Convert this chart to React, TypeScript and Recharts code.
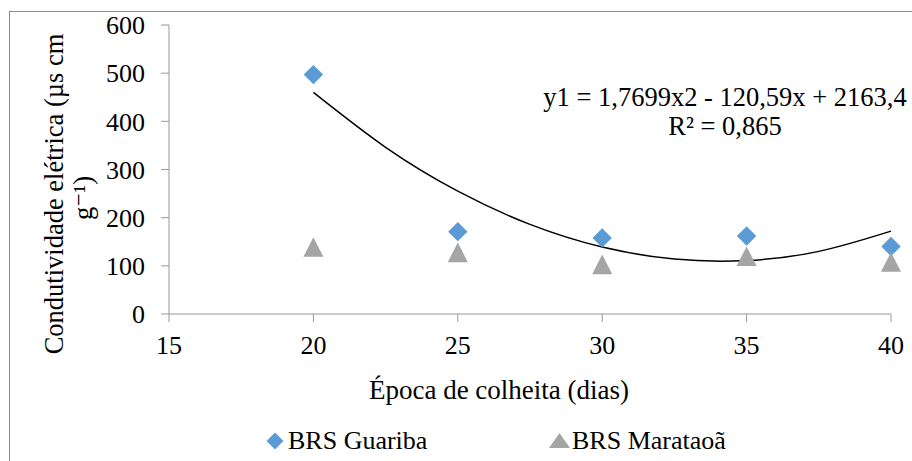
import React from "react";
import {
  ComposedChart,
  Line,
  Scatter,
  XAxis,
  YAxis,
} from "recharts";

// epoca de colheita (dias)
const dias = [20, 25, 30, 35, 40];
const guaribaVals = [497, 171, 158, 162, 140];
const marataoaVals = [139, 128, 103, 120, 108];

// polynomial trendline of BRS Guariba
const trendDias = [20, 22.5, 25, 27.5, 30, 32.5, 35, 37.5, 40];
const trendVals = [460, 346, 255, 186, 139, 114, 111, 130, 172];

const xTicks = [15, 20, 25, 30, 35, 40];
const yTicks = [0, 100, 200, 300, 400, 500, 600];

const guariba = dias.map((x, i) => ({ x, y: guaribaVals[i] }));
const marataoa = dias.map((x, i) => ({ x, y: marataoaVals[i] }));
const trend = trendDias.map((x, i) => ({ x, y: trendVals[i] }));

const FONT = "Liberation Serif, DejaVu Serif, serif";
const AXIS = "#999999";
const BLUE = "#5B9BD5";
const GREY = "#A5A5A5";

const Diamond = (props: any) => {
  const { cx, cy } = props;
  const r = 9.7;
  return (
    <path
      d={`M${cx},${cy - r}L${cx + r},${cy}L${cx},${cy + r}L${cx - r},${cy}Z`}
      fill={BLUE}
    />
  );
};

const Triangle = (props: any) => {
  const { cx, cy } = props;
  const w = 10;
  const h = 9.8;
  return (
    <path
      d={`M${cx},${cy - h}L${cx + w},${cy + h}L${cx - w},${cy + h}Z`}
      fill={GREY}
    />
  );
};

const YTitle = () => (
  <g style={{ fontFamily: FONT, fontSize: 26.5 }} fill="#000">
    <text transform="translate(63,194) rotate(-90)" textAnchor="middle">
      Condutividade elétrica (µs cm
    </text>
    <text transform="translate(92,198) rotate(-90)" textAnchor="middle">
      g⁻¹)
    </text>
  </g>
);

const XTitle = () => (
  <text x={499} y={399} textAnchor="middle" style={{ fontFamily: FONT, fontSize: 27 }} fill="#000">
    Época de colheita (dias)
  </text>
);

const tickStyle = { fill: "#000", fontSize: 26, style: { fontFamily: FONT } };

export default function App() {
  return (
    <div
      style={{
        position: "absolute",
        left: 0,
        top: 0,
        width: 912,
        height: 461,
        background: "#fff",
        fontFamily: FONT,
      }}
    >
      <ComposedChart
        width={912}
        height={461}
        margin={{ top: 25, right: 21, bottom: 0, left: 0 }}
        style={{ fontFamily: FONT }}
      >
        <XAxis
          type="number"
          dataKey="x"
          domain={[15, 40]}
          ticks={xTicks}
          height={147}
          stroke={AXIS}
          tickSize={8}
          tickMargin={14}
          tick={tickStyle}
          label={<XTitle />}
        />
        <YAxis
          type="number"
          domain={[0, 600]}
          ticks={yTicks}
          width={169}
          stroke={AXIS}
          tickSize={8}
          tickMargin={16}
          tick={tickStyle}
          label={<YTitle />}
        />
        <Scatter
          name="BRS Guariba"
          data={guariba}
          dataKey="y"
          shape={Diamond}
          isAnimationActive={false}
        />
        <Scatter
          name="BRS Marataoã"
          data={marataoa}
          dataKey="y"
          shape={Triangle}
          isAnimationActive={false}
        />
        <Line
          data={trend}
          dataKey="y"
          type="natural"
          stroke="#000"
          strokeWidth={1.5}
          dot={false}
          activeDot={false}
          legendType="none"
          isAnimationActive={false}
        />
      </ComposedChart>
      <svg
        width={912}
        height={461}
        style={{ position: "absolute", left: 0, top: 0, pointerEvents: "none", fontFamily: FONT }}
      >
        <rect x={9.5} y={11.5} width={910} height={460} fill="none" stroke="#8c8c8c" strokeWidth={1} />
        <text x={725} y={106} textAnchor="middle" fontSize={26.5} fill="#000">
          y1 = 1,7699x2 - 120,59x + 2163,4
        </text>
        <text x={725} y={135} textAnchor="middle" fontSize={26.5} fill="#000">
          R² = 0,865
        </text>
        <path d="M275,432.5L283.5,441L275,449.5L266.5,441Z" fill={BLUE} />
        <text x={288} y={449} fontSize={26} fill="#000">BRS Guariba</text>
        <path d="M559.5,433L570,448L549,448Z" fill={GREY} />
        <text x={572} y={449} fontSize={26} fill="#000">BRS Marataoã</text>
      </svg>
    </div>
  );
}
